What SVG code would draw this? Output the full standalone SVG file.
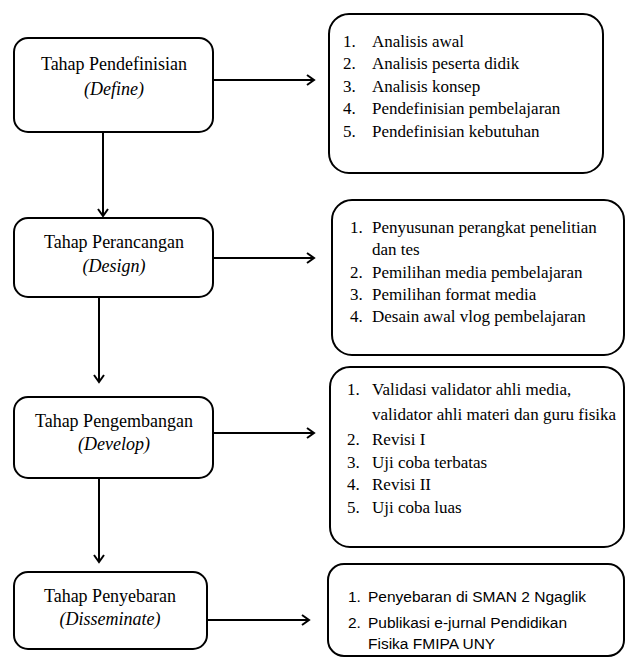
<svg xmlns="http://www.w3.org/2000/svg" width="626" height="659" viewBox="0 0 626 659">
<style>
.box{fill:#fff;stroke:#000;stroke-width:2}
.t{font-family:"Liberation Serif",serif;font-size:18px;fill:#000}
.c{text-anchor:middle}
.i{font-style:italic}
.l{font-family:"Liberation Serif",serif;font-size:17px;fill:#000}
.s{font-family:"Liberation Sans",sans-serif;font-size:15.5px;fill:#000}
.e{fill:none;stroke:#000;stroke-width:2}
</style>
<defs>
<marker id="ah" markerWidth="12" markerHeight="12" refX="9" refY="6" orient="auto" markerUnits="userSpaceOnUse">
<path d="M2,1 L9,6 L2,11" fill="none" stroke="#000" stroke-width="2"/>
</marker>
</defs>
<g id="connectors">
<line class="e" x1="213" y1="80" x2="314" y2="80" marker-end="url(#ah)"/>
<line class="e" x1="103" y1="132" x2="103" y2="216" marker-end="url(#ah)"/>
<line class="e" x1="213" y1="258" x2="314" y2="258" marker-end="url(#ah)"/>
<line class="e" x1="99" y1="297" x2="99" y2="382" marker-end="url(#ah)"/>
<line class="e" x1="213" y1="433" x2="314" y2="433" marker-end="url(#ah)"/>
<line class="e" x1="99" y1="478" x2="99" y2="562" marker-end="url(#ah)"/>
<line class="e" x1="207" y1="620" x2="309" y2="620" marker-end="url(#ah)"/>
</g>
<g id="define">
<rect class="box" x="14" y="38" width="199" height="94" rx="14"/>
<text class="t c" x="114" y="70">Tahap Pendefinisian</text>
<text class="t c i" x="114" y="95">(Define)</text>
</g>
<g id="design">
<rect class="box" x="14" y="218" width="199" height="79" rx="14"/>
<text class="t c" x="114" y="248">Tahap Perancangan</text>
<text class="t c i" x="114" y="272">(Design)</text>
</g>
<g id="develop">
<rect class="box" x="14" y="397" width="199" height="81" rx="14"/>
<text class="t c" x="114" y="427">Tahap Pengembangan</text>
<text class="t c i" x="114" y="450">(Develop)</text>
</g>
<g id="disseminate">
<rect class="box" x="14" y="572" width="193" height="77" rx="14"/>
<text class="t c" x="110" y="602">Tahap Penyebaran</text>
<text class="t c i" x="110" y="625">(Disseminate)</text>
</g>
<g id="define-list">
<rect class="box" x="329" y="14" width="274" height="159" rx="20"/>
<text class="l" x="343" y="47">1.</text><text class="l" x="372" y="47">Analisis awal</text>
<text class="l" x="343" y="69">2.</text><text class="l" x="372" y="69">Analisis peserta didik</text>
<text class="l" x="343" y="92">3.</text><text class="l" x="372" y="92">Analisis konsep</text>
<text class="l" x="343" y="114">4.</text><text class="l" x="372" y="114">Pendefinisian pembelajaran</text>
<text class="l" x="343" y="137">5.</text><text class="l" x="372" y="137">Pendefinisian kebutuhan</text>
</g>
<g id="design-list">
<rect class="box" x="332" y="200" width="292" height="155" rx="20"/>
<text class="l" x="350" y="233">1.</text><text class="l" x="372" y="233">Penyusunan perangkat penelitian</text>
<text class="l" x="372" y="255">dan tes</text>
<text class="l" x="350" y="278">2.</text><text class="l" x="372" y="278">Pemilihan media pembelajaran</text>
<text class="l" x="350" y="300">3.</text><text class="l" x="372" y="300">Pemilihan format media</text>
<text class="l" x="350" y="322">4.</text><text class="l" x="372" y="322">Desain awal vlog pembelajaran</text>
</g>
<g id="develop-list">
<rect class="box" x="330" y="367" width="294" height="180" rx="20"/>
<text class="l" x="347" y="395">1.</text><text class="l" x="372" y="395">Validasi validator ahli media,</text>
<text class="l" x="372" y="420">validator ahli materi dan guru fisika</text>
<text class="l" x="347" y="445">2.</text><text class="l" x="372" y="445">Revisi I</text>
<text class="l" x="347" y="468">3.</text><text class="l" x="372" y="468">Uji coba terbatas</text>
<text class="l" x="347" y="490">4.</text><text class="l" x="372" y="490">Revisi II</text>
<text class="l" x="347" y="513">5.</text><text class="l" x="372" y="513">Uji coba luas</text>
</g>
<g id="disseminate-list">
<rect class="box" x="328" y="564" width="296" height="92" rx="16"/>
<text class="s" x="348" y="602">1.</text><text class="s" x="368" y="602">Penyebaran di SMAN 2 Ngaglik</text>
<text class="s" x="348" y="628">2.</text><text class="s" x="368" y="628">Publikasi e-jurnal Pendidikan</text>
<text class="s" x="368" y="649">Fisika FMIPA UNY</text>
</g>
</svg>
